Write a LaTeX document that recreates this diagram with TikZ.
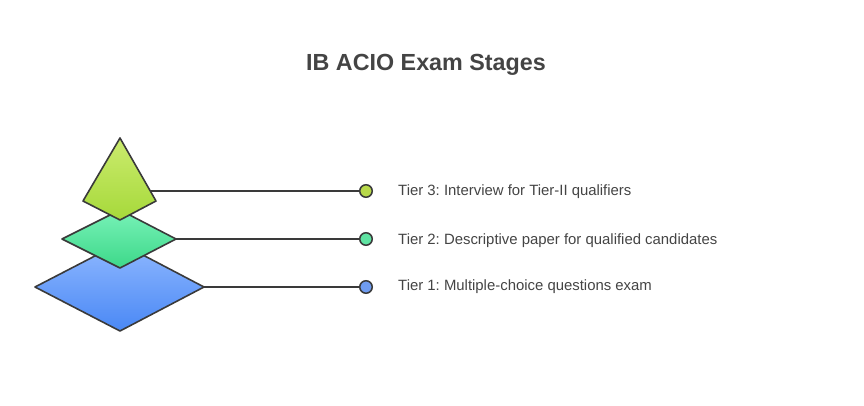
\documentclass[tikz,border=0pt]{standalone}
\usepackage{fontspec}
\setmainfont{Liberation Sans}
\frenchspacing
\definecolor{txt}{HTML}{444444}
\definecolor{edge}{HTML}{3A3A3A}
\definecolor{gA}{HTML}{CBEB6E}\definecolor{gB}{HTML}{A6D93A}
\definecolor{mA}{HTML}{78F2B8}\definecolor{mB}{HTML}{3DD889}
\definecolor{bA}{HTML}{8FB8FF}\definecolor{bB}{HTML}{4A88F5}
\definecolor{c3}{HTML}{B8D94A}\definecolor{c2}{HTML}{5FE3A2}\definecolor{c1}{HTML}{6F9CF0}
\tikzset{
  tier/.style={draw=edge, line width=1.6pt, line join=round},
  conn/.style={draw=edge, line width=1.6pt},
  dot/.style={circle, draw=edge, line width=1.5pt, minimum size=12.5pt, inner sep=0pt},
  lbl/.style={anchor=west, text=txt, font=\fontsize{14.9}{17}\selectfont, inner sep=0pt},
}
\begin{document}
\begin{tikzpicture}[x=1pt,y=-1pt]
\useasboundingbox (0,0) rectangle (864,406);
\node[text=txt, font=\fontsize{23.3}{28}\selectfont\bfseries] (title) at (426,65) {IB ACIO Exam Stages};
% bottom diamond
\path[tier, top color=bA, bottom color=bB] (120,243) -- (204,287) -- (120,331) -- (35,287) -- cycle;
\coordinate (r1) at (204,287);
% middle diamond
\path[tier, top color=mA, bottom color=mB] (120,210) -- (176,239) -- (120,268) -- (62,239) -- cycle;
\coordinate (r2) at (176,239);
% top kite
\path[tier, top color=gA, bottom color=gB] (120,138) -- (156,201) -- (120,220) -- (83,201) -- cycle;
\coordinate (r3) at (150.3,191);
% dots
\node[dot, fill=c3] (d3) at (366,191) {};
\node[dot, fill=c2] (d2) at (366,239) {};
\node[dot, fill=c1] (d1) at (366,287) {};
\draw[conn] (r3) -- (d3);
\draw[conn] (r2) -- (d2);
\draw[conn] (r1) -- (d1);
\node[lbl] (t3) at (398,191.5) {Tier 3: Interview for Tier-II qualifiers};
\node[lbl] (t2) at (398,240.5) {Tier 2: Descriptive paper for qualified candidates};
\node[lbl] (t1) at (398,286.5) {Tier 1: Multiple-choice questions exam};
\end{tikzpicture}
\end{document}
